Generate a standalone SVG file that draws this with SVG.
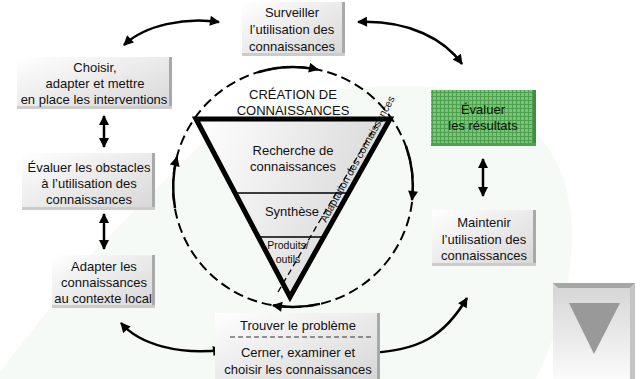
<svg xmlns="http://www.w3.org/2000/svg" width="641" height="379" viewBox="0 0 641 379">
<defs>
<style>
.t{font-family:"Liberation Sans",Arial,sans-serif;font-size:13px;fill:#111;text-anchor:middle}
.ts{font-size:10.5px}
.box{fill:url(#gbox)}
.shr{fill:#a9a9a9}
.shb{fill:#cccccc}
.con{fill:none;stroke:#000;stroke-width:2.5;marker-start:url(#ah);marker-end:url(#ah)}
.arc{fill:none;stroke:#000;stroke-width:2.5;marker-end:url(#ah)}
</style>
<linearGradient id="gbox" x1="0" y1="0" x2="1" y2="1">
<stop offset="0" stop-color="#ffffff"/>
<stop offset="1" stop-color="#d6d6d6"/>
</linearGradient>
<linearGradient id="gtri" x1="0" y1="0" x2="1" y2="0.3">
<stop offset="0" stop-color="#ffffff"/>
<stop offset="1" stop-color="#d8d8d8"/>
</linearGradient>
<linearGradient id="gdeco" x1="0" y1="0" x2="0" y2="1">
<stop offset="0" stop-color="#d4d4d4"/>
<stop offset="1" stop-color="#fbfbfb"/>
</linearGradient>
<pattern id="grid" width="4" height="4" patternUnits="userSpaceOnUse">
<rect width="4" height="4" fill="#78c478"/>
<path d="M0,0.5 H4 M0.5,0 V4" stroke="#4e9f4e" stroke-width="1"/>
</pattern>
<marker id="ah" viewBox="0 0 10 10" refX="9" refY="5" markerWidth="11" markerHeight="10" markerUnits="userSpaceOnUse" orient="auto-start-reverse">
<path d="M0,0 L10,5 L0,10 Z" fill="#000"/>
</marker>
</defs>
<rect width="641" height="379" fill="#ffffff"/>
<path d="M 0,372 L 95,250 L 200,145 C 260,95 340,84 420,86 C 520,90 574,150 572,240 C 570,300 552,345 536,379 L 0,379 Z" fill="#f6faf6"/>

<g id="connectors">
<path class="con" d="M 124,45 C 145,25 185,17 219,22"/>
<path class="con" d="M 358,22 C 410,20 445,40 462,64"/>
<path class="con" d="M 121,323 C 140,345 180,355 222,350"/>
<path class="con" d="M 364,353 C 420,352 445,335 467,298"/>
<path class="con" d="M 104,116 L 104,147"/>
<path class="con" d="M 104,214 L 104,249"/>
<path class="con" d="M 483,159 L 483,196"/>
</g>

<g id="cycle">
<circle cx="293" cy="187" r="120" fill="none" stroke="#000" stroke-width="2" stroke-dasharray="10 5"/>
<path class="arc" d="M 258,72.2 A 120 120 0 0 1 318,69.6"/>
<path class="arc" d="M 406,146 A 120 120 0 0 1 412,200"/>
<path class="arc" d="M 320,303.9 A 120 120 0 0 1 273,305.3"/>
<path class="arc" d="M 175,208 A 120 120 0 0 1 177,157"/>
</g>

<g id="n_creation">
<polygon points="196,119 390,119 290,297" fill="url(#gtri)" stroke="#000" stroke-width="5" stroke-linejoin="miter"/>
<line x1="235" y1="193" x2="348" y2="193" stroke="#000" stroke-width="1.5"/>
<line x1="258" y1="237" x2="324" y2="237" stroke="#000" stroke-width="1.5"/>
<text class="t" x="293" y="99">CRÉATION DE</text>
<text class="t" x="293" y="115">CONNAISSANCES</text>
<text class="t" x="293" y="155">Recherche de</text>
<text class="t" x="293" y="171">connaissances</text>
<text class="t" x="292" y="216">Synthèse</text>
<text class="t ts" x="288" y="249">Produits/</text>
<text class="t ts" x="288" y="263">outils</text>
<line x1="278" y1="292" x2="376" y2="125" stroke="#000" stroke-width="1.3" stroke-dasharray="6 4"/>
<text class="t ts" transform="translate(326,223) rotate(-61)" x="0" y="0" style="text-anchor:start">Adaptation des connaissances</text>
</g>

<g id="n_surveiller">
<rect class="box" x="242" y="2" width="103" height="54"/>
<rect class="shr" x="342" y="2" width="3" height="54"/>
<rect class="shb" x="242" y="53" width="103" height="3"/>
<text class="t" x="292" y="17">Surveiller</text>
<text class="t" x="292" y="34">l’utilisation des</text>
<text class="t" x="292" y="51">connaissances</text>
</g>

<g id="n_choisir">
<rect class="box" x="17" y="57" width="155" height="52"/>
<rect class="shr" x="169" y="57" width="3" height="52"/>
<rect class="shb" x="17" y="106" width="155" height="3"/>
<text class="t" x="95" y="72">Choisir,</text>
<text class="t" x="95" y="88">adapter et mettre</text>
<text class="t" x="94" y="104">en place les interventions</text>
</g>

<g id="n_obstacles">
<rect class="box" x="22" y="153" width="133" height="57"/>
<rect class="shr" x="152" y="153" width="3" height="57"/>
<rect class="shb" x="22" y="207" width="133" height="3"/>
<text class="t" x="89" y="172">Évaluer les obstacles</text>
<text class="t" x="89" y="188">à l’utilisation des</text>
<text class="t" x="89" y="204">connaissances</text>
</g>

<g id="n_adapter">
<rect class="box" x="52" y="255" width="103" height="53"/>
<rect class="shr" x="152" y="255" width="3" height="53"/>
<rect class="shb" x="52" y="305" width="103" height="3"/>
<text class="t" x="104" y="271">Adapter les</text>
<text class="t" x="104" y="287">connaissances</text>
<text class="t" x="103" y="303">au contexte local</text>
</g>

<g id="n_trouver">
<rect class="box" x="215" y="313" width="165" height="66"/>
<rect class="shr" x="377" y="313" width="3" height="66"/>
<text class="t" x="298" y="330">Trouver le problème</text>
<line x1="230" y1="337" x2="374" y2="337" stroke="#333" stroke-width="1.2" stroke-dasharray="5 3"/>
<text class="t" x="298" y="357">Cerner, examiner et</text>
<text class="t" x="298" y="374">choisir les connaissances</text>
</g>

<g id="n_resultats">
<rect x="431" y="90" width="105" height="56" fill="url(#grid)"/>
<rect x="533" y="90" width="3" height="56" fill="#3f8f3f"/>
<rect x="431" y="143" width="105" height="3" fill="#52a052"/>
<text class="t" x="483" y="114">Évaluer</text>
<text class="t" x="483" y="130">les résultats</text>
</g>

<g id="n_maintenir">
<rect class="box" x="432" y="210" width="104" height="56"/>
<rect class="shr" x="533" y="210" width="3" height="56"/>
<rect class="shb" x="432" y="263" width="104" height="3"/>
<text class="t" x="484" y="227">Maintenir</text>
<text class="t" x="484" y="244">l’utilisation des</text>
<text class="t" x="484" y="260">connaissances</text>
</g>

<g id="deco">
<rect x="553" y="283" width="82" height="96" fill="url(#gdeco)"/>
<polygon points="553,283 635,283 630,288 558,288" fill="#a6a6a6"/>
<polygon points="630,288 635,283 635,379 630,379" fill="#c4c4c4"/>
<polygon points="569,303 620,303 594,354" fill="#999999"/>
</g>
</svg>
